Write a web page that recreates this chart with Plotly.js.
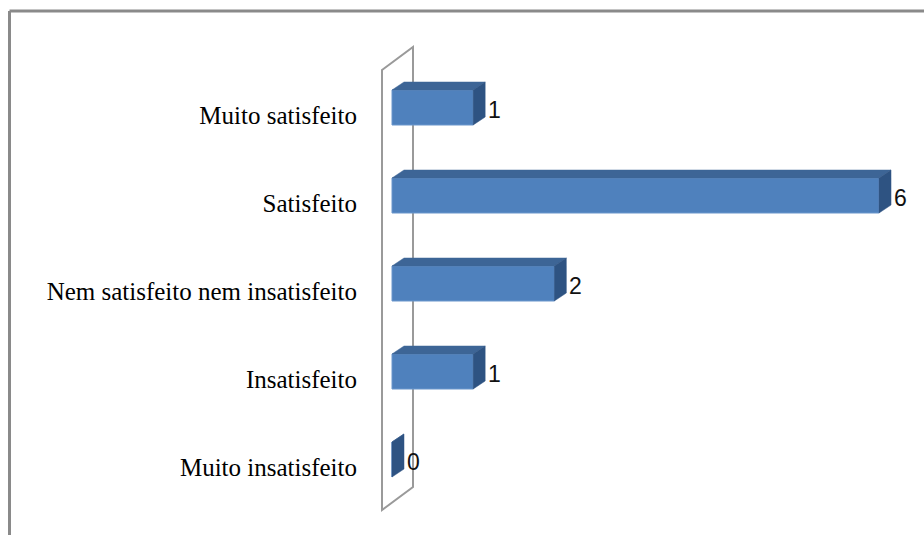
<!DOCTYPE html>
<html>
<head>
<meta charset="utf-8">
<script src="https://cdn.plot.ly/plotly-3.0.1.min.js"></script>
<style>html,body{margin:0;padding:0;background:#fff;}#chart{width:924px;height:535px;}</style>
</head>
<body>
<div id="chart"></div>
<script>
// Data (bottom to top)
const categories = ["Muito insatisfeito", "Insatisfeito", "Nem satisfeito nem insatisfeito", "Satisfeito", "Muito satisfeito"];
const values = [0, 1, 2, 6, 1];
const valueLabels = ["0", "1", "2", "6", "1"];

// Styling / geometry constants
const W = 924, H = 535;
const ML = 370, MR = 4;
const PX_PER_UNIT = 81.17;       // horizontal scale
const X0_PX = 392;               // pixel of value 0
const PX_PER_CAT = 88;           // vertical spacing
const TOP_CAT_PX = 107.5;        // pixel of top category center
const HALF = 17.5 / PX_PER_CAT;  // half bar height in y units
const DX = 12 / PX_PER_UNIT;     // 3D depth offset (x)
const DY = 8 / PX_PER_CAT;       // 3D depth offset (y)
const FRONT = "#4F81BD", TOPC = "#3D6596", SIDE = "#2E5382";

const n = categories.length;
const xr = [(ML - X0_PX) / PX_PER_UNIT, (W - MR - X0_PX) / PX_PER_UNIT];
const yAt = p => (n - 1) - (p - TOP_CAT_PX) / PX_PER_CAT;
const xAt = p => (p - X0_PX) / PX_PER_UNIT;
const yr = [yAt(H), yAt(0)];
const idx = categories.map((c, i) => i);

const traces = [];
// front faces
traces.push({
  type: "bar", orientation: "h", x: values, y: idx, base: 0, width: 2 * HALF,
  marker: {color: FRONT, line: {color: "#6A96CC", width: 1}},
  hoverinfo: "skip", showlegend: false
});
// top and side faces
values.forEach((v, i) => {
  traces.push({
    type: "scatter", mode: "lines", fill: "toself", fillcolor: TOPC,
    line: {color: TOPC, width: 0.5},
    x: [0, v, v + DX, DX, 0], y: [i + HALF, i + HALF, i + HALF + DY, i + HALF + DY, i + HALF],
    hoverinfo: "skip", showlegend: false
  });
  traces.push({
    type: "scatter", mode: "lines", fill: "toself", fillcolor: SIDE,
    line: {color: SIDE, width: 0.5},
    x: [v, v + DX, v + DX, v, v], y: [i + HALF, i + HALF + DY, i - HALF + DY, i - HALF, i + HALF],
    hoverinfo: "skip", showlegend: false
  });
});

const annotations = values.map((v, i) => ({
  x: v + DX, y: i, xref: "x", yref: "y", text: valueLabels[i], showarrow: false,
  xanchor: "left", yanchor: "middle", xshift: 1, yshift: -2,
  font: {family: "Liberation Sans, Arial, sans-serif", size: 23, color: "#111"}
}));

// wall outline (px corners)
const wl = xAt(382), wr = xAt(413);
const wallPath = `M ${wl},${yAt(70)} L ${wr},${yAt(47)} L ${wr},${yAt(487)} L ${wl},${yAt(510)} Z`;
const pw = ML, pwid = W - ML - MR;
const px = p => (p - pw) / pwid;
const shapes = [
  {type: "path", xref: "x", yref: "y", path: wallPath, line: {color: "#9a9a9a", width: 2}, layer: "below"},
  {type: "line", xref: "paper", yref: "paper", x0: px(9.5), x1: px(W + 5), y0: 1 - 11 / H, y1: 1 - 11 / H, line: {color: "#8a8a8a", width: 3}},
  {type: "line", xref: "paper", yref: "paper", x0: px(9.5), x1: px(9.5), y0: 1 - 11 / H, y1: -0.05, line: {color: "#8a8a8a", width: 3}}
];

const layout = {
  width: W, height: H,
  margin: {l: ML, r: MR, t: 0, b: 0},
  paper_bgcolor: "#fff", plot_bgcolor: "#fff",
  showlegend: false,
  xaxis: {range: xr, visible: false, fixedrange: true},
  yaxis: {
    range: yr, tickmode: "array", tickvals: idx, ticktext: categories,
    showgrid: false, zeroline: false, showline: false, ticks: "",
    ticklabelstandoff: 12, ticklabelshift: 8,
    tickfont: {family: "Liberation Serif, Times New Roman, serif", size: 25, color: "#000"},
    fixedrange: true
  },
  shapes: shapes,
  annotations: annotations
};

Plotly.newPlot("chart", traces, layout, {displayModeBar: false, staticPlot: true});
</script>
</body>
</html>
